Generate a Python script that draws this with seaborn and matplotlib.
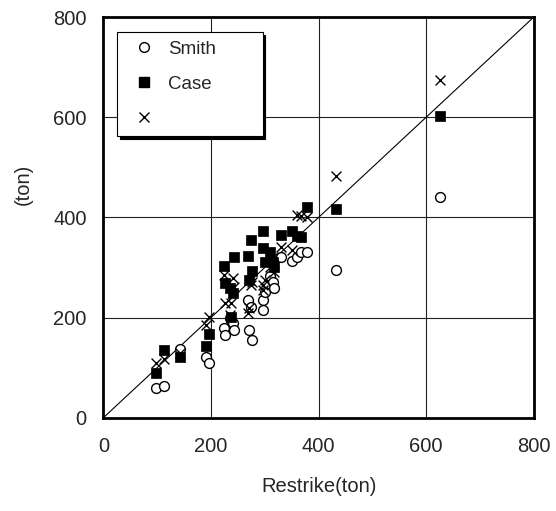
import matplotlib
matplotlib.use("Agg")
import matplotlib.pyplot as plt
import seaborn as sns
import pandas as pd
from matplotlib.lines import Line2D

# Restrike capacity (x) for each pile
restrike = [98, 112, 143, 190, 196, 224, 226, 235, 238, 241, 243, 269, 270,
            275, 276, 297, 297, 300, 310, 315, 318, 331, 350, 359, 368, 378,
            432, 625]
# Smith prediction
smith = [59, 64, 137, 122, 109, 179, 165, 200, 195, 190, 175, 235, 175,
         222, 155, 235, 215, 250, 283, 270, 259, 320, 312, 321, 330, 330,
         294, 440]
# Case prediction
case = [90, 135, 122, 144, 167, 302, 269, 259, 202, 249, 321, 323, 275,
        354, 292, 373, 339, 310, 330, 310, 300, 365, 372, 362, 361, 421,
        417, 603]
# third (unnamed) method
third = [110, 117, 130, 185, 202, 285, 230, 205, 229, 279, 260, 209, 220,
         265, 270, 265, 255, 275, 300, 320, 290, 340, 335, 405, 402, 400,
         482, 674]

legend_labels = ["Smith", "Case", ""]
ticks = [0, 200, 400, 600, 800]

sns.set_style("white")
plt.rcParams["font.family"] = ["Liberation Sans", "DejaVu Sans"]

df = pd.DataFrame({"x": restrike, "smith": smith, "case": case, "third": third})

fig = plt.figure(figsize=(5.56, 5.11), dpi=100)
ax = fig.add_axes([0.186, 0.1826, 0.774, 0.784])

ax.plot([0, 800], [0, 800], color="black", lw=0.8, zorder=1)

sns.scatterplot(data=df, x="x", y="smith", ax=ax, marker="o", s=50,
                facecolor="white", edgecolor="black", linewidth=1.0, zorder=3)
sns.scatterplot(data=df, x="x", y="case", ax=ax, marker="s", s=55,
                color="black", edgecolor="black", linewidth=0.5, zorder=3)
sns.scatterplot(data=df, x="x", y="third", ax=ax, marker="x", s=50,
                color="black", linewidth=1.0, zorder=4)

ax.set_xlim(0, 800)
ax.set_ylim(0, 800)
ax.set_xticks(ticks)
ax.set_yticks(ticks)
ax.tick_params(axis="both", labelsize=14.5, length=0)
ax.tick_params(axis="x", pad=14)
ax.tick_params(axis="y", pad=12)
ax.grid(True, color="#222222", lw=0.8)
ax.set_axisbelow(True)
for sp in ax.spines.values():
    sp.set_linewidth(2.0)
    sp.set_color("black")

ax.set_xlabel("Restrike(ton)", fontsize=14.5, labelpad=15)
ax.set_ylabel("(ton)", fontsize=14.5)
ax.yaxis.set_label_coords(-0.165, 0.583)

handles = [
    Line2D([], [], ls="none", marker="o", mfc="white", mec="black", ms=7, mew=1.0),
    Line2D([], [], ls="none", marker="s", mfc="black", mec="black", ms=7),
    Line2D([], [], ls="none", marker="x", color="black", ms=7, mew=1.0),
]
leg = ax.legend(handles, legend_labels, loc="upper left",
                bbox_to_anchor=(0.031, 0.5, 0.339, 0.4626), mode="expand",
                borderaxespad=0, fontsize=13.5, frameon=True,
                fancybox=False, shadow={"color": "black", "alpha": 1.0},
                borderpad=0.45, labelspacing=0.95, handletextpad=0.3,
                handlelength=2.0)
leg.get_frame().set_edgecolor("black")
leg.get_frame().set_linewidth(0.8)
leg.get_frame().set_alpha(1.0)

fig.savefig("out.png", dpi=100)
